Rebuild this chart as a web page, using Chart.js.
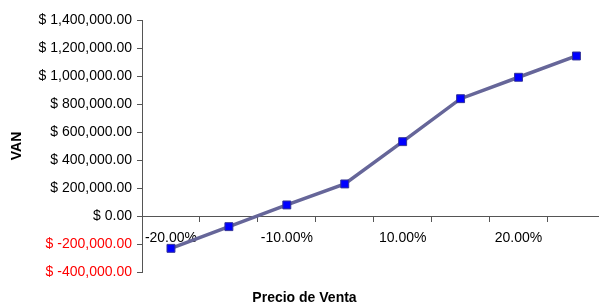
<!DOCTYPE html>
<html>
<head>
<meta charset="utf-8">
<script src="https://cdn.jsdelivr.net/npm/chart.js@4.4.0/dist/chart.umd.min.js"></script>
<style>
    html, body { margin: 0; padding: 0; background: #fff; overflow: hidden; }
    #ChartView { position: relative; width: 612px; height: 304px; }
</style>
</head>
<body>
<div id="ChartView"><canvas id="myChart"></canvas></div>
<script>
const precioLabels = ["-20.00%", "-15.00%", "-10.00%", "-5.00%", "10.00%", "15.00%", "20.00%", "25.00%"];
const vanValues = [-231000, -76000, 79000, 229000, 531000, 838000, 991000, 1143000];
const yMin = -400000;
const yMax = 1400000;
const yStep = 200000;

const fontFamily = "'Liberation Sans', Arial, sans-serif";

function money(v) {
    return "$ " + v.toLocaleString("en-US", { minimumFractionDigits: 2, maximumFractionDigits: 2 });
}

new Chart(document.getElementById("myChart"), {
    type: "line",
    data: {
        labels: precioLabels,
        datasets: [{
            label: "VAN",
            data: vanValues,
            borderColor: "#666699",
            borderWidth: 3.5,
            backgroundColor: "#0000ff",
            pointStyle: "rect",
            pointRadius: 5.6,
            pointBorderColor: "#333399",
            pointBorderWidth: 1,
            pointBackgroundColor: "#0000ff",
            tension: 0,
            fill: false
        }]
    },
    options: {
        responsive: true,
        maintainAspectRatio: false,
        animation: false,
        layout: { padding: { top: 20, right: 3, left: 0, bottom: 0 } },
        scales: {
            x: {
                position: { y: 0 },
                offset: true,
                grid: {
                    display: true,
                    offset: true,
                    drawOnChartArea: false,
                    tickLength: 5,
                    color: "#555"
                },
                border: { display: true, color: "#555", width: 1 },
                ticks: {
                    autoSkip: false,
                    maxRotation: 0,
                    padding: 9,
                    color: "#000",
                    font: { family: fontFamily, size: 14 },
                    callback: function (value, index) {
                        return index % 2 === 0 ? precioLabels[index] : "";
                    }
                }
            },
            y: {
                min: yMin,
                max: yMax,
                afterFit: function (scale) { scale.width = 142; },
                grid: {
                    display: true,
                    drawOnChartArea: false,
                    tickLength: 5,
                    color: "#555"
                },
                border: { display: true, color: "#555", width: 1 },
                ticks: {
                    stepSize: yStep,
                    padding: 5,
                    font: { family: fontFamily, size: 14 },
                    color: function (ctx) { return ctx.tick && ctx.tick.value < 0 ? "#ff0000" : "#000"; },
                    callback: function (value) { return money(value); }
                },
                title: {
                    display: true,
                    text: "VAN",
                    color: "#000",
                    font: { family: fontFamily, size: 14, weight: "bold" },
                    padding: { top: 9, bottom: 0 }
                }
            }
        },
        plugins: {
            legend: { display: false },
            tooltip: { enabled: false },
            title: {
                display: true,
                position: "bottom",
                text: "Precio de Venta",
                color: "#000",
                font: { family: fontFamily, size: 14, weight: "bold" },
                padding: { top: 17.5, bottom: -2.3 }
            }
        }
    }
});
</script>
</body>
</html>
